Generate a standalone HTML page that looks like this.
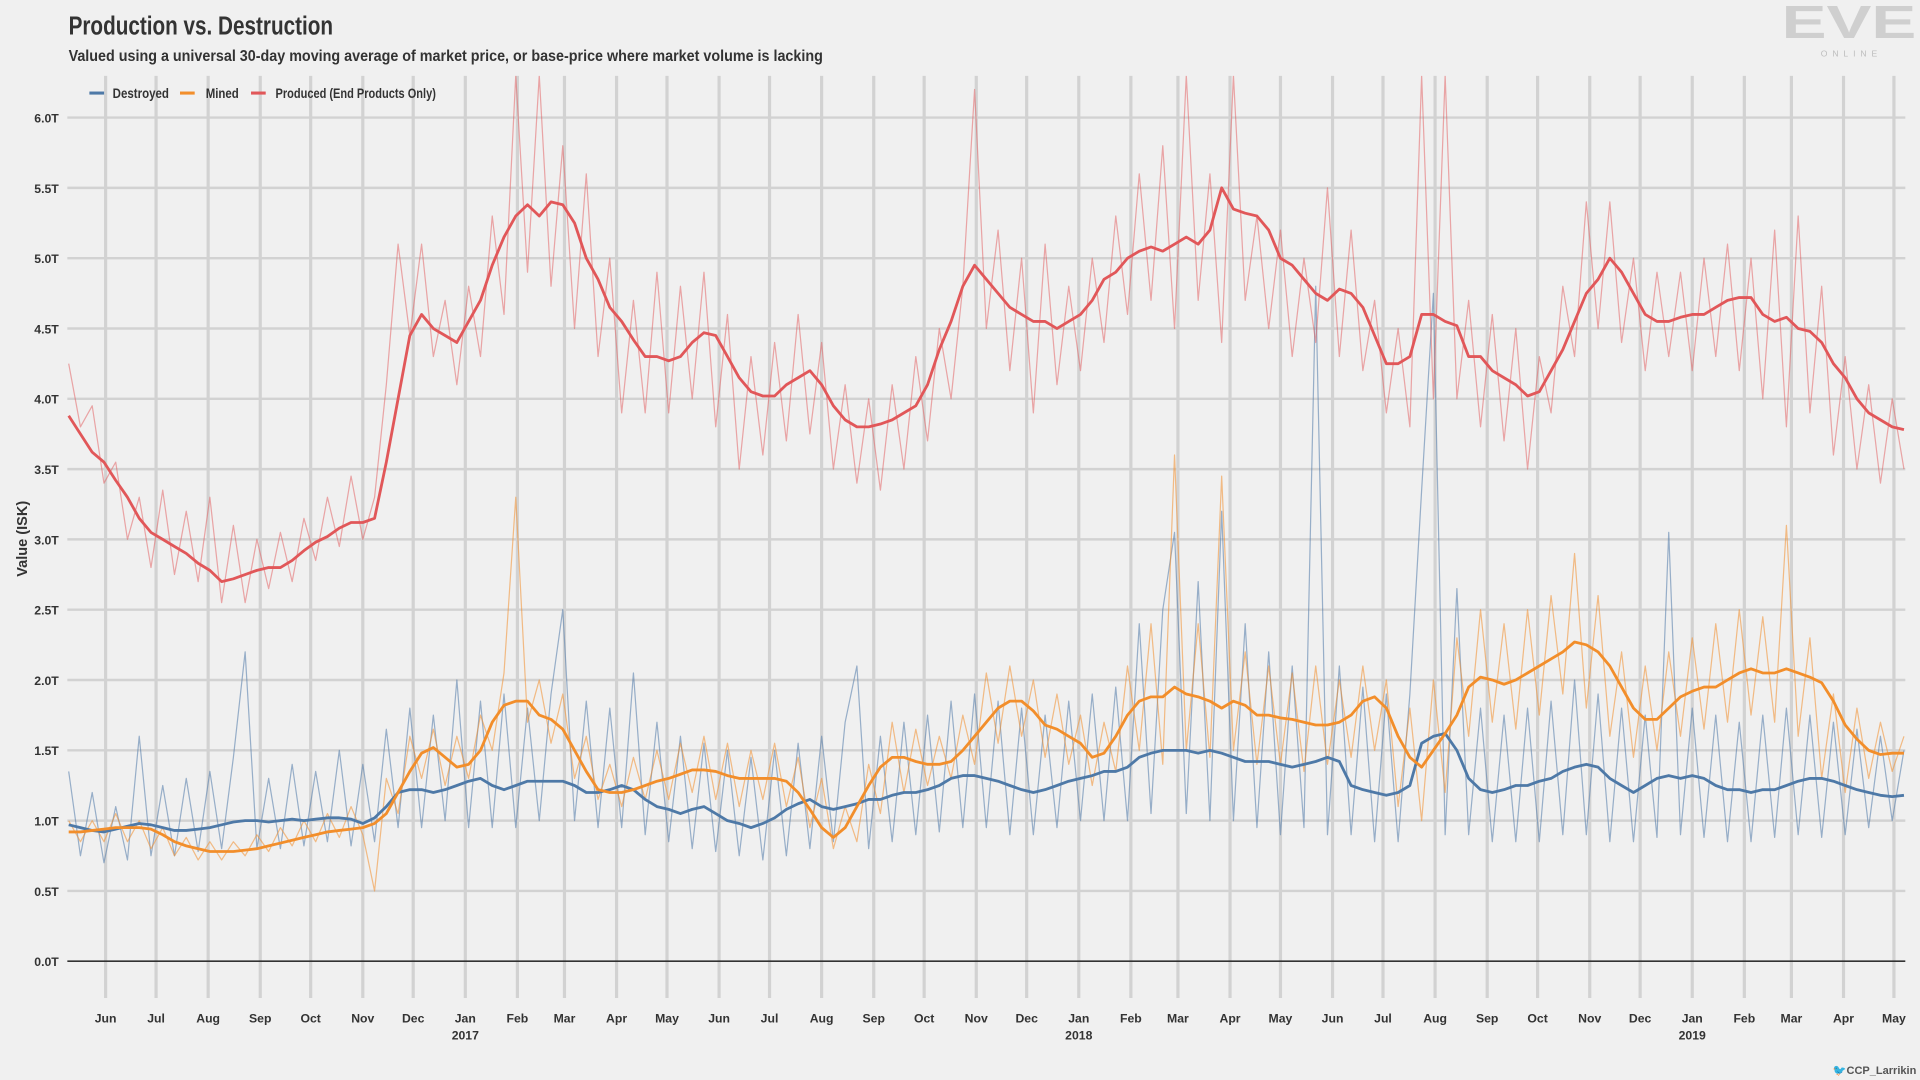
<!DOCTYPE html>
<html><head><meta charset="utf-8"><style>
html,body{margin:0;padding:0;background:#f0f0f0;}
svg{display:block;font-family:"Liberation Sans",sans-serif;}
</style></head><body>
<svg id="chart" width="1920" height="1080" viewBox="0 0 1568 882" xmlns="http://www.w3.org/2000/svg">
<rect x="0" y="0" width="1568" height="882" fill="#f0f0f0"/>
<text x="56" y="28" font-size="21" font-weight="bold" fill="#333" textLength="216" lengthAdjust="spacingAndGlyphs">Production vs. Destruction</text>
<text x="56" y="50" font-size="13" font-weight="bold" fill="#333" textLength="616" lengthAdjust="spacingAndGlyphs">Valued using a universal 30-day moving average of market price, or base-price where market volume is lacking</text>
<g>
<text x="1510" y="31" font-size="38" font-weight="bold" fill="#cfcfcf" text-anchor="middle" textLength="110" lengthAdjust="spacingAndGlyphs">EVE</text>
<text x="1512" y="46" font-size="7" fill="#bdbdbd" text-anchor="middle" letter-spacing="4">ONLINE</text>
</g>
<text x="1565" y="877" font-size="9" font-weight="bold" fill="#555" text-anchor="end">🐦CCP_Larrikin</text>
<g id="grid"></g>
<g id="series"></g>
<g id="axes"></g>
<g id="legend">
<line x1="73" y1="76" x2="85" y2="76" stroke="#4e79a7" stroke-width="2.5"/>
<text x="92" y="80" font-size="11" font-weight="bold" fill="#333" textLength="46" lengthAdjust="spacingAndGlyphs">Destroyed</text>
<line x1="147" y1="76" x2="159" y2="76" stroke="#f28e2b" stroke-width="2.5"/>
<text x="168" y="80" font-size="11" font-weight="bold" fill="#333" textLength="27" lengthAdjust="spacingAndGlyphs">Mined</text>
<line x1="205" y1="76" x2="217" y2="76" stroke="#e15759" stroke-width="2.5"/>
<text x="225" y="80" font-size="11" font-weight="bold" fill="#333" textLength="131" lengthAdjust="spacingAndGlyphs">Produced (End Products Only)</text>
</g>
<text transform="translate(22,440) rotate(-90)" font-size="12" font-weight="bold" fill="#333" text-anchor="middle" textLength="62" lengthAdjust="spacingAndGlyphs">Value (ISK)</text>
</svg>
<script>
// weekly samples starting 2016-05-10
const startDate = "2016-05-10";
const yTicks = [0, 0.5, 1.0, 1.5, 2.0, 2.5, 3.0, 3.5, 4.0, 4.5, 5.0, 5.5, 6.0];
const monthNames = ["Jan","Feb","Mar","Apr","May","Jun","Jul","Aug","Sep","Oct","Nov","Dec"];
const producedMA = [3.88,3.75,3.62,3.55,3.42,3.3,3.15,3.05,3.0,2.95,2.9,2.83,2.78,2.7,2.72,2.75,2.78,2.8,2.8,2.85,2.92,2.98,3.02,3.08,3.12,3.12,3.15,
3.55,4.0,4.45,4.6,4.5,4.45,4.4,4.55,4.7,4.95,5.15,5.3,5.38,5.3,5.4,5.38,5.25,5.0,4.85,4.65,4.55,4.42,4.3,4.3,4.27,4.3,4.4,4.47,4.45,4.3,4.15,4.05,4.02,4.02,4.1,4.15,4.2,4.1,3.95,3.85,3.8,3.8,3.82,3.85,3.9,3.95,4.1,4.35,4.55,4.8,4.95,4.85,4.75,4.65,4.6,4.55,4.55,4.5,4.55,4.6,4.7,4.85,4.9,5.0,5.05,5.08,5.05,5.1,5.15,5.1,5.2,5.5,5.35,5.32,5.3,5.2,5.0,4.95,4.85,4.75,4.7,4.78,4.75,4.65,4.45,4.25,4.25,4.3,4.6,4.6,4.55,4.52,4.3,4.3,4.2,4.15,4.1,4.02,4.05,4.2,4.35,4.55,4.75,4.85,5.0,4.9,4.75,4.6,4.55,4.55,4.58,4.6,4.6,4.65,4.7,4.72,4.72,4.6,4.55,4.58,4.5,4.48,4.4,4.25,4.15,4.0,3.9,3.85,3.8,3.78];
const minedMA = [0.92,0.92,0.93,0.94,0.95,0.95,0.95,0.94,0.9,0.85,0.82,0.8,0.78,0.78,0.78,0.79,0.8,0.82,0.84,0.86,0.88,0.9,0.92,0.93,0.94,0.95,0.98,
1.05,1.2,1.35,1.48,1.52,1.45,1.38,1.4,1.5,1.7,1.82,1.85,1.85,1.75,1.72,1.65,1.5,1.35,1.22,1.2,1.2,1.22,1.25,1.28,1.3,1.33,1.36,1.36,1.35,1.32,1.3,1.3,1.3,1.3,1.28,1.2,1.08,0.95,0.88,0.95,1.1,1.25,1.38,1.45,1.45,1.42,1.4,1.4,1.42,1.5,1.6,1.7,1.8,1.85,1.85,1.78,1.68,1.65,1.6,1.55,1.45,1.48,1.6,1.75,1.85,1.88,1.88,1.95,1.9,1.88,1.85,1.8,1.85,1.82,1.75,1.75,1.73,1.72,1.7,1.68,1.68,1.7,1.75,1.85,1.88,1.8,1.6,1.45,1.38,1.5,1.62,1.75,1.95,2.02,2.0,1.97,2.0,2.05,2.1,2.15,2.2,2.27,2.25,2.2,2.1,1.95,1.8,1.72,1.72,1.8,1.88,1.92,1.95,1.95,2.0,2.05,2.08,2.05,2.05,2.08,2.05,2.02,1.98,1.85,1.68,1.58,1.5,1.47,1.48,1.48];
const destroyedMA = [0.97,0.95,0.93,0.92,0.94,0.96,0.98,0.97,0.95,0.93,0.93,0.94,0.95,0.97,0.99,1.0,1.0,0.99,1.0,1.01,1.0,1.01,1.02,1.02,1.01,0.98,1.02,
1.1,1.2,1.22,1.22,1.2,1.22,1.25,1.28,1.3,1.25,1.22,1.25,1.28,1.28,1.28,1.28,1.25,1.2,1.2,1.22,1.25,1.22,1.15,1.1,1.08,1.05,1.08,1.1,1.05,1.0,0.98,0.95,0.98,1.02,1.08,1.12,1.15,1.1,1.08,1.1,1.12,1.15,1.15,1.18,1.2,1.2,1.22,1.25,1.3,1.32,1.32,1.3,1.28,1.25,1.22,1.2,1.22,1.25,1.28,1.3,1.32,1.35,1.35,1.38,1.45,1.48,1.5,1.5,1.5,1.48,1.5,1.48,1.45,1.42,1.42,1.42,1.4,1.38,1.4,1.42,1.45,1.42,1.25,1.22,1.2,1.18,1.2,1.25,1.55,1.6,1.62,1.5,1.3,1.22,1.2,1.22,1.25,1.25,1.28,1.3,1.35,1.38,1.4,1.38,1.3,1.25,1.2,1.25,1.3,1.32,1.3,1.32,1.3,1.25,1.22,1.22,1.2,1.22,1.22,1.25,1.28,1.3,1.3,1.28,1.25,1.22,1.2,1.18,1.17,1.18];
const producedRaw = [4.25,3.8,3.95,3.4,3.55,3.0,3.3,2.8,3.35,2.75,3.2,2.7,3.3,2.55,3.1,2.55,3.0,2.65,3.05,2.7,3.15,2.85,3.3,2.95,3.45,3.0,3.3,
4.1,5.1,4.45,5.1,4.3,4.7,4.1,4.8,4.3,5.3,4.6,
6.3,4.9,6.3,4.8,5.8,4.5,5.6,4.3,5.0,3.9,4.7,3.9,4.9,
3.9,4.8,4.0,4.9,3.8,4.6,3.5,4.3,3.6,4.4,3.7,4.6,3.75,4.4,3.5,4.1,3.4,4.0,3.35,4.1,3.5,4.3,3.7,4.5,4.0,4.8,
6.2,4.5,5.2,4.2,5.0,3.9,5.1,4.1,4.8,4.2,5.0,4.4,5.3,
4.6,5.6,4.7,5.8,4.5,6.3,4.7,5.6,4.4,6.3,4.7,5.3,4.5,5.2,4.3,5.0,4.4,5.5,4.3,5.2,4.2,4.7,3.9,4.5,3.8,
6.3,4.0,6.3,4.0,4.7,3.8,4.6,3.7,4.5,3.5,4.3,3.9,4.8,4.3,5.4,4.5,5.4,4.4,5.0,4.2,4.9,4.3,4.9,4.2,5.0,4.3,5.1,4.2,5.0,4.0,5.2,3.8,5.3,3.9,4.8,3.6,4.3,3.5,4.1,3.4,4.0,3.5];
const minedRaw = [1.0,0.85,1.0,0.85,1.05,0.85,1.0,0.8,0.95,0.75,0.88,0.72,0.85,0.72,0.85,0.75,0.9,0.78,0.95,0.82,1.0,0.85,1.05,0.88,1.1,0.9,
0.5,1.3,1.05,1.6,1.3,1.65,1.25,1.6,1.3,1.75,1.5,2.05,3.3,1.7,2.0,1.55,1.9,1.3,1.6,1.15,1.4,1.1,1.45,1.15,1.5,
1.15,1.55,1.2,1.6,1.15,1.55,1.1,1.5,1.15,1.55,1.1,1.45,0.95,1.3,0.8,1.1,0.85,1.4,1.05,1.7,1.2,1.65,1.25,1.6,1.3,1.75,
1.4,2.05,1.55,2.1,1.6,2.0,1.45,1.9,1.4,1.75,1.25,1.7,1.35,
2.1,1.5,2.4,1.4,3.6,1.5,2.4,1.45,3.45,1.5,2.2,1.4,2.1,1.4,2.05,1.35,2.1,1.4,2.0,1.45,2.1,1.5,2.0,1.1,1.8,
1.0,2.0,1.2,2.3,1.6,2.5,1.7,2.4,1.65,2.5,1.75,2.6,1.9,2.9,1.8,2.6,1.6,2.2,1.45,2.1,1.5,2.2,1.6,2.3,1.65,2.4,1.7,2.5,1.75,2.45,1.7,3.1,1.6,2.3,1.3,1.9,1.2,1.8,1.3,1.7,1.35,1.6];
const destroyedRaw = [1.35,0.75,1.2,0.7,1.1,0.72,1.6,0.75,1.25,0.75,1.3,0.78,1.35,0.8,1.45,2.2,0.8,1.3,0.8,1.4,0.82,1.35,0.85,1.5,0.82,1.4,
0.85,1.65,0.95,1.8,0.95,1.75,1.0,2.0,0.95,1.85,0.95,1.9,0.95,1.8,1.0,1.9,2.5,1.0,1.85,0.95,1.8,0.95,2.05,0.9,1.7,
0.85,1.6,0.8,1.55,0.78,1.5,0.75,1.45,0.72,1.5,0.75,1.55,0.8,1.6,0.85,1.7,2.1,0.8,1.6,0.85,1.7,0.9,1.75,0.92,1.85,0.95,
1.9,0.95,1.85,0.9,1.8,0.9,1.75,0.95,1.85,1.0,1.9,1.0,1.95,
1.0,2.4,1.05,2.5,3.05,1.05,2.7,1.0,3.2,1.0,2.4,0.95,2.2,0.9,2.1,0.95,4.8,0.9,2.1,0.9,1.95,0.85,1.9,0.85,1.9,
3.35,4.75,0.9,2.65,0.9,1.8,0.85,1.75,0.85,1.8,0.85,1.85,0.9,2.0,0.9,1.9,0.85,1.8,0.85,1.75,0.88,3.05,0.9,1.8,0.88,1.75,0.85,1.7,0.85,1.75,0.88,1.8,0.9,1.75,0.88,1.7,0.9,1.65,0.95,1.6,1.0,1.5];

const NS = "http://www.w3.org/2000/svg";
const X0 = 380, PXD = 1.3726, REF = Date.UTC(2017,0,1), DAY = 86400000;
const PL = 55, PR = 1556, PT = 62, PB = 785;
function dayOf(str){const p=str.split("-").map(Number);return (Date.UTC(p[0],p[1]-1,p[2])-REF)/DAY;}
const d0 = dayOf(startDate);
function xScale(day){return X0 + day*PXD;}
function yScale(v){return 785 - v*114.83;}
function mk(tag, attrs, parent){const e=document.createElementNS(NS,tag);for(const k in attrs)e.setAttribute(k,attrs[k]);parent.appendChild(e);return e;}
const grid=document.getElementById('grid'), axes=document.getElementById('axes'), series=document.getElementById('series');
const svg=document.getElementById('chart');
const defs=mk('defs',{},svg);
const cp=mk('clipPath',{id:'plotclip'},defs);
mk('rect',{x:PL,y:PT,width:PR-PL,height:PB-PT+20},cp);

yTicks.forEach(function(v){
  const y=yScale(v);
  if(v>0){const gl=mk('line',{x1:PL,x2:PR,y1:y,y2:y,stroke:'#d2d2d2','stroke-width':2},grid);
  
  }
  const t=mk('text',{x:48,y:y+4,'font-size':10,'font-weight':'bold',fill:'#333','text-anchor':'end'},axes);
  t.textContent=v.toFixed(1)+'T';
  
  
});
for(let y=2016;y<=2019;y++){for(let m=0;m<12;m++){
  const day=(Date.UTC(y,m,1)-REF)/DAY; const x=xScale(day);
  if(x<PL||x>PR)continue;
  const gl=mk('line',{x1:x,x2:x,y1:PT,y2:815,stroke:'#d2d2d2','stroke-width':2.6},grid);
  
  
  const t=mk('text',{x:x,y:835,'font-size':10,'font-weight':'bold',fill:'#333','text-anchor':'middle'},axes);
  t.textContent=monthNames[m];
  
  
  if(m===0){const yt=mk('text',{x:x,y:849,'font-size':10,'font-weight':'bold',fill:'#333','text-anchor':'middle'},axes);
    yt.textContent=String(y);
    
    }
}}
const zl=mk('line',{x1:PL,x2:PR,y1:yScale(0),y2:yScale(0),stroke:'#333','stroke-width':1.3},axes);



function path(arr){return arr.map(function(v,i){return (i?'L':'M')+xScale(d0+7*i).toFixed(1)+','+yScale(v).toFixed(1);}).join('');}
const layers=[
 [destroyedRaw,'#4e79a7',1,0.55,'destroyed-daily-line'],
 [minedRaw,'#f28e2b',1,0.55,'mined-daily-line'],
 [producedRaw,'#e15759',1,0.5,'produced-daily-line'],
 [destroyedMA,'#4e79a7',2.3,1,'destroyed-moving-average-line'],
 [minedMA,'#f28e2b',2.3,1,'mined-moving-average-line'],
 [producedMA,'#e15759',2.3,1,'produced-moving-average-line']];
layers.forEach(function(L){
  const p=mk('path',{d:path(L[0]),fill:'none',stroke:L[1],'stroke-width':L[2],'stroke-opacity':L[3],'stroke-linejoin':'round','clip-path':'url(#plotclip)'},series);
  
  
});
</script>
</body></html>
